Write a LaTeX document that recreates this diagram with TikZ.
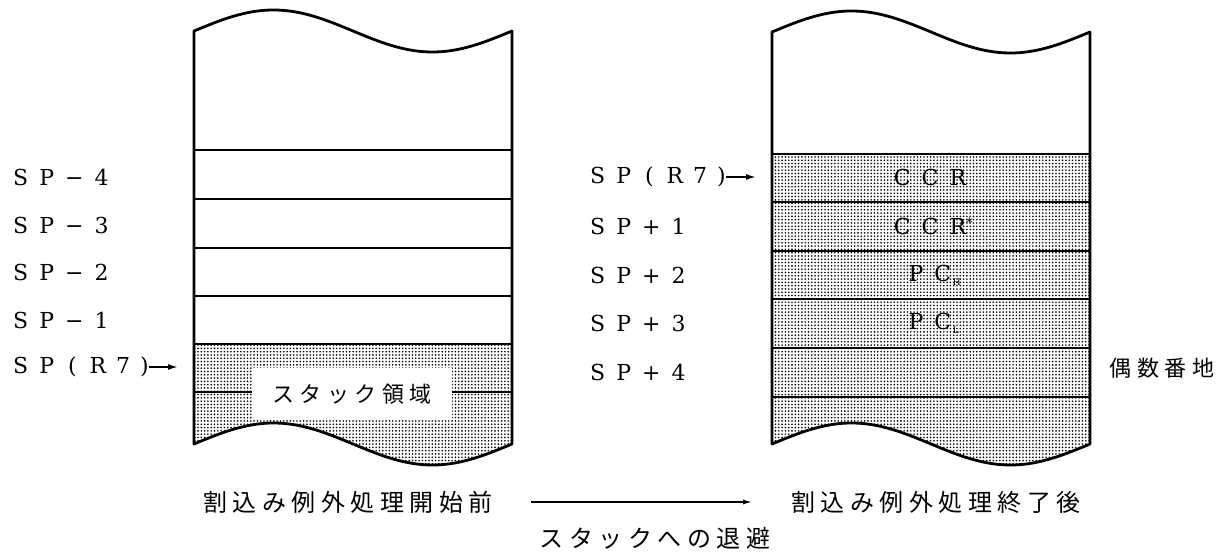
\documentclass[tikz,border=0pt]{standalone}
\usepackage{fontspec}
\newfontfamily\jp{Noto Sans CJK JP}
\newfontfamily\lat{DejaVu Serif}
\usetikzlibrary{arrows.meta,patterns.meta}
\newcommand\gp{\hspace{11pt}}
\newcommand\js{\hspace{5.5pt}}
\newcommand\spr{S\gp P\kern14pt(\kern13pt R\kern10pt 7\kern10pt)}
\begin{document}
\begin{tikzpicture}[x=1pt,y=-1pt,
  lab/.style={anchor=west,inner sep=0pt,font=\fontsize{22}{22}\selectfont\lat},
  cell/.style={inner sep=0pt,font=\fontsize{22}{22}\selectfont\lat},
  jlab/.style={inner sep=0pt,font=\fontsize{22}{22}\selectfont\jp},
  blab/.style={inner sep=0pt,font=\fontsize{24}{24}\selectfont\jp},
  outline/.style={line width=2.8pt,line join=round},
  rowline/.style={line width=1.3pt},
  sepline/.style={line width=2.4pt},
  shade/.style={pattern={Dots[distance=3.3pt,radius=0.9pt]},pattern color=black},
  ptr/.style={line width=1.6pt,-{Latex[length=10pt,width=6pt]}},
  flow/.style={line width=1.3pt,-{Latex[length=9pt,width=5pt]}},
]
\useasboundingbox (0,0) rectangle (1224,553);

% ---------- left box ----------
\fill[shade] (194,344) -- (512,344) -- plot[domain=318:0,samples=90] ({194+\x},{444-21*sin(1.13208*\x)}) -- cycle;
\foreach \y in {150,199,248,296} \draw[rowline] (194,\y) -- (512,\y);
\draw[sepline] (194,344) -- (512,344);
\draw[rowline] (194,392) -- (512,392);
\node[jlab,fill=white,minimum width=200pt,minimum height=52pt] (stack) at (352,394)
  {ス\js タ\js ッ\js ク\js 領\js 域};
\draw[outline] plot[domain=0:318,samples=90] ({194+\x},{31-21*sin(1.13208*\x)})
  -- plot[domain=318:0,samples=90] ({194+\x},{444-21*sin(1.13208*\x)}) -- cycle;

% ---------- right box ----------
\fill[shade] (772,154) -- (1090,154) -- plot[domain=318:0,samples=90] ({772+\x},{444-21*sin(1.13208*\x)}) -- cycle;
\foreach \y in {202,251,299,348,397} \draw[rowline] (772,\y) -- (1090,\y);
\draw[sepline] (772,154) -- (1090,154);
\draw[outline] plot[domain=0:318,samples=90] ({772+\x},{32-21*sin(1.13208*\x)})
  -- plot[domain=318:0,samples=90] ({772+\x},{444-21*sin(1.13208*\x)}) -- cycle;

\node[cell] (ccr) at (930,177) {C\gp C\gp R};
\node[cell] (ccrs) at (930,226) {C\gp C\gp R\rlap{\raisebox{7pt}{\fontsize{13}{13}\selectfont *}}};
\node[cell] (pch) at (930,275) {P\gp C\rlap{\kern1.5pt\raisebox{-4pt}{\fontsize{9}{9}\selectfont H}}};
\node[cell] (pcl) at (930,323) {P\gp C\rlap{\kern1.5pt\raisebox{-4pt}{\fontsize{9}{9}\selectfont L}}};

% ---------- left labels ----------
\node[lab] (lm4) at (13,177) {S\gp P\gp −\gp 4};
\node[lab] (lm3) at (13,225) {S\gp P\gp −\gp 3};
\node[lab] (lm2) at (13,272) {S\gp P\gp −\gp 2};
\node[lab] (lm1) at (13,320) {S\gp P\gp −\gp 1};
\node[lab] (lr7) at (13,367) {\spr};
\coordinate (lr7tip) at (178,367);
\draw[ptr] (lr7.east) -- (lr7tip);

% ---------- right labels ----------
\node[lab] (rr7) at (590,177) {\spr};
\node[lab] (rp1) at (590,226) {S\gp P\gp +\gp 1};
\node[lab] (rp2) at (590,275) {S\gp P\gp +\gp 2};
\node[lab] (rp3) at (590,323) {S\gp P\gp +\gp 3};
\node[lab] (rp4) at (590,372) {S\gp P\gp +\gp 4};
\coordinate (rr7tip) at (756,177);
\draw[ptr] (rr7.east) -- (rr7tip);

\node[jlab] (even) at (1162,368) {偶\js 数\js 番\js 地};

% ---------- bottom ----------
\node[blab] (before) at (348,502) {割\js 込\js み\js 例\js 外\js 処\js 理\js 開\js 始\js 前};
\node[blab] (after) at (936,502) {割\js 込\js み\js 例\js 外\js 処\js 理\js 終\js 了\js 後};
\draw[flow,shorten <=38pt,shorten >=39pt] (before) -- (after);
\node[blab] (save) at (655,538) {ス\js タ\js ッ\js ク\js へ\js の\js 退\js 避};
\end{tikzpicture}
\end{document}
